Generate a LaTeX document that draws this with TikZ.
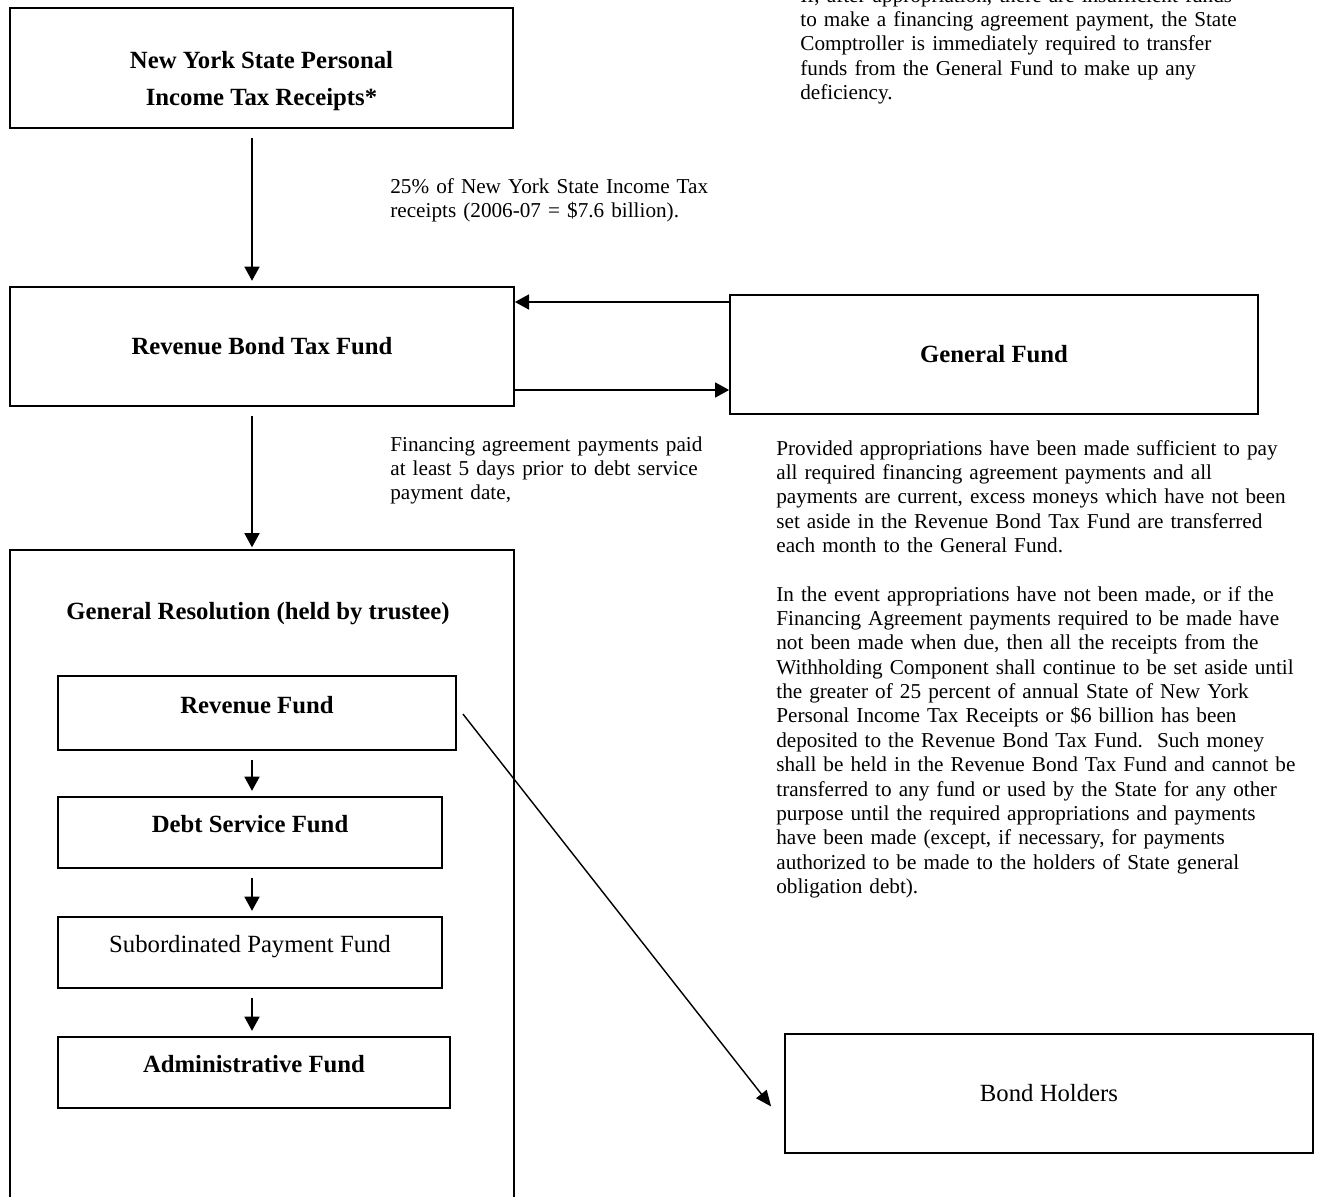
\documentclass[tikz,border=0pt]{standalone}
\usepackage{fontspec}
\setmainfont{Liberation Serif}
\usetikzlibrary{arrows.meta}

\begin{document}
\begin{tikzpicture}[x=0.566pt, y=-0.566pt,
    box/.style={draw, line width=1pt, inner sep=0pt, font=\fontsize{14}{16}\selectfont\bfseries},
    fund/.style={box, text height=9pt, text depth=9pt, minimum height=40.2pt},
    note/.style={anchor=base west, inner sep=0pt, text width=300pt, align=left, font=\fontsize{12}{13.8}\selectfont},
    arr/.style={line width=1pt, -{Triangle[length=8pt, width=8.5pt]}},
    flow/.style={arr, shorten <=5pt, shorten >=3pt}]
    % Page
    \useasboundingbox (0,0) rectangle (1325,1196);
    \clip (0,0) rectangle (1325,1196);
    \fill[white] (0,0) rectangle (1325,1196);

    % Receipts (top)
    \node[box, minimum width=284.7pt, minimum height=67.9pt, align=center,
          font=\fontsize{14}{20.4}\selectfont\bfseries, text height=44.5pt, text depth=2.6pt]
          (nys) at (261.5,68) {New York State Personal\\Income Tax Receipts*};

    % Tax fund and general fund
    \node[box, minimum width=285.3pt, minimum height=67.4pt] (rbtf) at (262,346.5) {Revenue Bond Tax Fund};
    \node[box, minimum width=298.8pt, minimum height=67.4pt] (genfund) at (994,354.5) {General Fund};

    % General resolution (runs off the page)
    \node[box, minimum width=285.3pt, minimum height=373.6pt] (genres) at (262,880) {};
    \node[font=\fontsize{14}{16}\selectfont\bfseries] (grtitle) at (258,614) {General Resolution (held by trustee)};
    \node[fund, minimum width=225.3pt, minimum height=41.9pt] (revfund) at (257,713) {Revenue Fund};
    \node[fund, minimum width=217.3pt] (debtfund) at (250,832.5) {Debt Service Fund};
    \node[fund, minimum width=217.3pt, font=\fontsize{14}{16}\selectfont] (subfund) at (250,952.5) {Subordinated Payment Fund};
    \node[fund, minimum width=221.9pt] (adminfund) at (254,1072.5) {Administrative Fund};

    % Bond holders
    \node[box, minimum width=298.8pt, minimum height=67.4pt, font=\fontsize{14}{16}\selectfont] (holders) at (1049,1093.5) {Bond Holders};

    % Arrows
    \coordinate (axis) at (252,0);
    \coordinate (ytop) at (0,302);
    \coordinate (ybot) at (0,390);
    \draw[flow] (nys.south -| axis) -- (rbtf.north -| axis);
    \draw[flow, shorten >=1pt] (rbtf.south -| axis) -- (genres.north -| axis);
    \draw[arr] (genfund.west |- ytop) -- (rbtf.east |- ytop);
    \draw[arr] (rbtf.east |- ybot) -- (genfund.west |- ybot);
    \draw[flow] (revfund.south -| axis) -- (debtfund.north -| axis);
    \draw[flow] (debtfund.south -| axis) -- (subfund.north -| axis);
    \draw[flow] (subfund.south -| axis) -- (adminfund.north -| axis);
    \draw[line width=0.8pt, -{Triangle[length=9pt, width=7.5pt]}]
        ([shift={(6,1)}]revfund.east) -- ([shift={(-13,13)}]holders.west);

    % Notes
    \node[note] (lab25) at (390,193) {25\% of New York State Income Tax\\receipts (2006-07 = \$7.6 billion).};
    \node[note] (labfin) at (390,451) {Financing agreement payments paid\\at least 5 days prior to debt service\\payment date,};
    \node[note] (notetop) at (800,2) {If, after appropriation, there are insufficient funds\\to make a financing agreement payment, the State\\Comptroller is immediately required to transfer\\funds from the General Fund to make up any\\deficiency.};
    \node[note] (noteexcess) at (776,455) {Provided appropriations have been made sufficient to pay\\all required financing agreement payments and all\\payments are current, excess moneys which have not been\\set aside in the Revenue Bond Tax Fund are transferred\\each month to the General Fund.};
    \node[note] (noteevent) at (776,601) {In the event appropriations have not been made, or if the\\Financing Agreement payments required to be made have\\not been made when due, then all the receipts from the\\Withholding Component shall continue to be set aside until\\the greater of 25 percent of annual State of New York\\Personal Income Tax Receipts or \$6 billion has been\\deposited to the Revenue Bond Tax Fund.\ \ Such money\\shall be held in the Revenue Bond Tax Fund and cannot be\\transferred to any fund or used by the State for any other\\purpose until the required appropriations and payments\\have been made (except, if necessary, for payments\\authorized to be made to the holders of State general\\obligation debt).};
\end{tikzpicture}
\end{document}
